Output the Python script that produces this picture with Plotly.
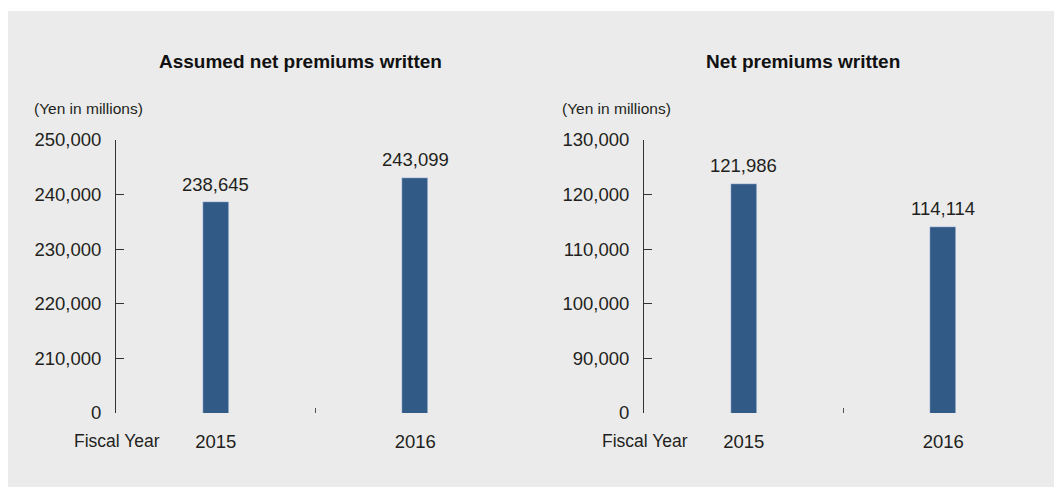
import plotly.graph_objects as go

W, H = 1054, 488

years = ["2015", "2016"]
assumed_vals = [238645, 243099]
net_vals = [121986, 114114]

titles = ["Assumed net premiums written", "Net premiums written"]
unit_label = "(Yen in millions)"
x_caption = "Fiscal Year"

left_tickvals = [200000, 210000, 220000, 230000, 240000, 250000]
left_ticktext = ["0", "210,000", "220,000", "230,000", "240,000", "250,000"]
right_tickvals = [80000, 90000, 100000, 110000, 120000, 130000]
right_ticktext = ["0", "90,000", "100,000", "110,000", "120,000", "130,000"]

BAR = "#325a87"
TXT = "#231f20"
FONT = "Liberation Sans"


def px(x):
    return x / W


def py(y):
    return (H - y) / H


fig = go.Figure()
fig.add_trace(go.Bar(
    x=years, y=assumed_vals, marker_color=BAR, width=0.13,
    xaxis="x", yaxis="y", showlegend=False, hoverinfo="skip"))
fig.add_trace(go.Bar(
    x=years, y=net_vals, marker_color=BAR, width=0.13,
    xaxis="x2", yaxis="y2", showlegend=False, hoverinfo="skip"))

ydom = [py(413), py(140)]
xcommon = dict(type="category", range=[-0.5, 1.5], showgrid=False, zeroline=False,
               showline=False, ticks="inside", tickson="boundaries", ticklen=5,
               tickcolor="#555", tickwidth=1, automargin=False,
               tickfont=dict(size=18.5, color=TXT, family=FONT), ticklabelstandoff=15)
ycommon = dict(showgrid=False, zeroline=False, showline=True, linecolor="#333",
               linewidth=1, ticks="inside", ticklen=8, tickcolor="#333",
               tickwidth=1, automargin=False,
               tickfont=dict(size=18.5, color=TXT, family=FONT),
               ticklabelstandoff=10)

fig.update_layout(
    width=W, height=H, margin=dict(l=0, r=0, t=0, b=0, autoexpand=False),
    paper_bgcolor="white", plot_bgcolor="rgba(0,0,0,0)",
    font=dict(family=FONT, color=TXT),
    xaxis=dict(domain=[px(116), px(515)], anchor="y", **xcommon),
    yaxis=dict(domain=ydom, anchor="x", range=[200000, 250000],
               tickvals=left_tickvals, ticktext=left_ticktext, **ycommon),
    xaxis2=dict(domain=[px(644), px(1043)], anchor="y2", **xcommon),
    yaxis2=dict(domain=ydom, anchor="x2", range=[80000, 130000],
                tickvals=right_tickvals, ticktext=right_ticktext, **ycommon),
    bargap=0,
)

fig.add_shape(type="rect", xref="paper", yref="paper", x0=px(8), x1=1.0,
              y0=py(487), y1=py(11), fillcolor="#ebebeb", line_width=0, layer="below")

annos = []
for xr, yr, vals in [("x", "y", assumed_vals), ("x2", "y2", net_vals)]:
    for idx, v in enumerate(vals):
        annos.append(dict(x=idx, y=v, xref=xr, yref=yr, text=f"{v:,}",
                          showarrow=False, yanchor="middle", xanchor="center",
                          yshift=18, font=dict(size=18.5, color=TXT, family=FONT)))
for cx, t in [(300, titles[0]), (803, titles[1])]:
    annos.append(dict(x=px(cx), y=py(61), xref="paper", yref="paper", text=f"<b>{t}</b>",
                      showarrow=False, font=dict(size=19, color="#111", family=FONT),
                      xanchor="center", yanchor="middle"))
for lx in [32, 560]:
    annos.append(dict(x=px(lx), y=py(108), xref="paper", yref="paper", text=unit_label,
                      showarrow=False, font=dict(size=15.5, color=TXT, family=FONT),
                      xanchor="left", yanchor="middle"))
for lx in [72, 600]:
    annos.append(dict(x=px(lx), y=py(441), xref="paper", yref="paper", text=x_caption,
                      showarrow=False, font=dict(size=17.5, color=TXT, family=FONT),
                      xanchor="left", yanchor="middle"))
fig.update_layout(annotations=annos)

fig.write_html("out.html")
